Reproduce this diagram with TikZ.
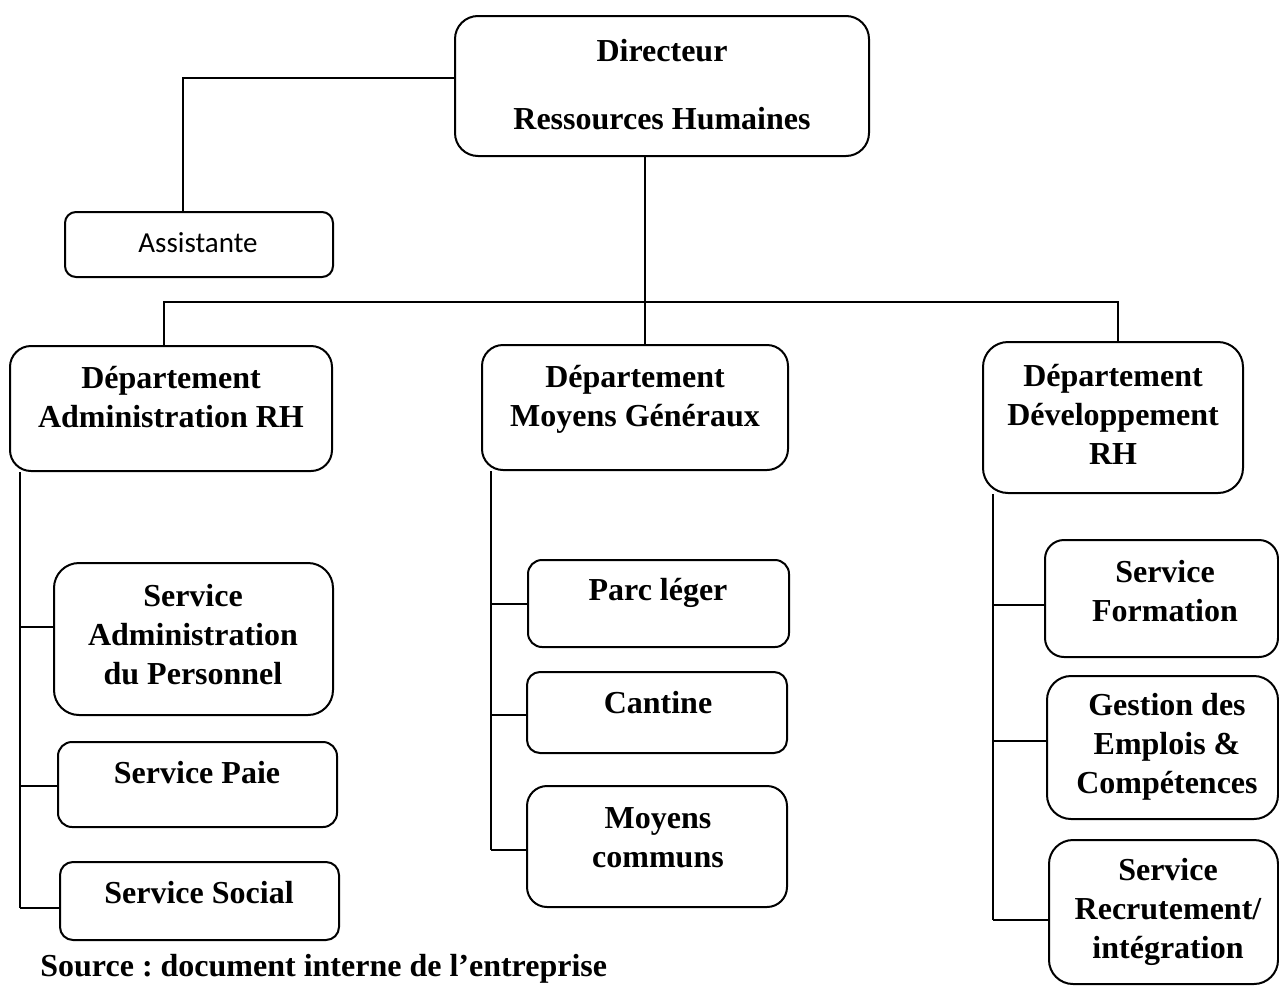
\documentclass[tikz,border=0pt]{standalone}
\usepackage{fontspec}
\setmainfont{Liberation Serif}
\newfontfamily\calib{Carlito}
\usetikzlibrary{fit}
\frenchspacing
\tikzset{
  box/.style={draw=black, line width=1pt, inner sep=0pt, fill=white},
  lbl/.style={font=\bfseries\fontsize{16}{19.5}\selectfont, align=center, inner sep=0pt, anchor=center},
  conn/.style={draw=black, line width=1pt},
}
\newcommand\obox[6]{\node[box, rounded corners=#6, fit={(#2,#3) (#4,#5)}] (#1) {};}
\begin{document}
\begin{tikzpicture}[x=0.5pt, y=-0.5pt]
\useasboundingbox (0,0) rectangle (1279,985);
% boxes
\obox{dir}{455}{16}{869}{156}{11.5pt}
\obox{asst}{65}{212}{333}{277}{5.5pt}
\obox{dadm}{10}{346}{332}{471}{10.5pt}
\obox{dmg}{482}{345}{788}{470}{10.5pt}
\obox{ddev}{983}{342}{1243}{493}{12.5pt}
\obox{sap}{54}{563}{333}{715}{12.5pt}
\obox{paie}{58}{742}{337}{827}{7pt}
\obox{social}{60}{862}{339}{940}{6.5pt}
\obox{parc}{528}{560}{789}{647}{7pt}
\obox{cantine}{527}{672}{787}{753}{6.5pt}
\obox{moyens}{527}{786}{787}{907}{10pt}
\obox{form}{1045}{540}{1278}{657}{9.5pt}
\obox{gest}{1047}{676}{1278}{819}{12pt}
\obox{recr}{1049}{840}{1278}{984}{12pt}
% labels
\node[lbl] (dir-t) at (662,85) {Directeur\\[14.5pt]Ressources Humaines};
\node[font=\calib\fontsize{14.5}{17}\selectfont, inner sep=0pt] (asst-t) at (198,243) {Assistante};
\node[lbl] (dadm-t) at (171,397) {Département\\Administration RH};
\node[lbl] (dmg-t) at (635,399) {Département\\Moyens Généraux};
\node[lbl] (ddev-t) at (1113,414) {Département\\Développement\\RH};
\node[lbl] (sap-t) at (193,635) {Service\\Administration\\du Personnel};
\node[lbl] (paie-t) at (197,773) {Service Paie};
\node[lbl] (social-t) at (199,893) {Service Social};
\node[lbl] (parc-t) at (658,593) {Parc léger};
\node[lbl] (cantine-t) at (658,703) {Cantine};
\node[lbl] (moyens-t) at (658,838) {Moyens\\communs};
\node[lbl] (form-t) at (1165,591) {Service\\Formation};
\node[lbl] (gest-t) at (1167,747) {Gestion des\\Emplois \&\\Compétences};
\node[lbl] (recr-t) at (1168,912) {Service\\Recrutement/\\intégration};
\node[font=\bfseries\fontsize{16}{19.5}\selectfont, inner sep=0pt, anchor=base west] (src) at (40,976) {Source : document interne de l’entreprise};
% coordinates
\coordinate (a1) at (183,78);
\coordinate (busM) at (645,302);
\coordinate (busL) at (164,302);
\coordinate (busR) at (1118,302);
\coordinate (sL) at (20,0);
\coordinate (sM) at (491,0);
\coordinate (sR) at (993,0);
\coordinate (bsap) at (20,627);
\coordinate (bpaie) at (20,786);
\coordinate (bsoc) at (20,908);
\coordinate (bparc) at (491,604);
\coordinate (bcant) at (491,715);
\coordinate (bmoy) at (491,850);
\coordinate (bform) at (993,605);
\coordinate (bgest) at (993,741);
\coordinate (brecr) at (993,920);
% connectors
\draw[conn] (dir.west |- a1) -| (asst.north -| a1);
\draw[conn] (dir.south -| busM) -- (dmg.north -| busM);
\draw[conn] (dadm.north -| busL) |- (busR) -- (ddev.north -| busR);
\draw[conn] (dadm.south -| sL) -- (bsoc);
\draw[conn] (bsap) -- (bsap -| sap.west);
\draw[conn] (bpaie) -- (bpaie -| paie.west);
\draw[conn] (bsoc) -- (bsoc -| social.west);
\draw[conn] (dmg.south -| sM) -- (bmoy);
\draw[conn] (bparc) -- (bparc -| parc.west);
\draw[conn] (bcant) -- (bcant -| cantine.west);
\draw[conn] (bmoy) -- (bmoy -| moyens.west);
\draw[conn] (ddev.south -| sR) -- (brecr);
\draw[conn] (bform) -- (bform -| form.west);
\draw[conn] (bgest) -- (bgest -| gest.west);
\draw[conn] (brecr) -- (brecr -| recr.west);
\end{tikzpicture}
\end{document}
